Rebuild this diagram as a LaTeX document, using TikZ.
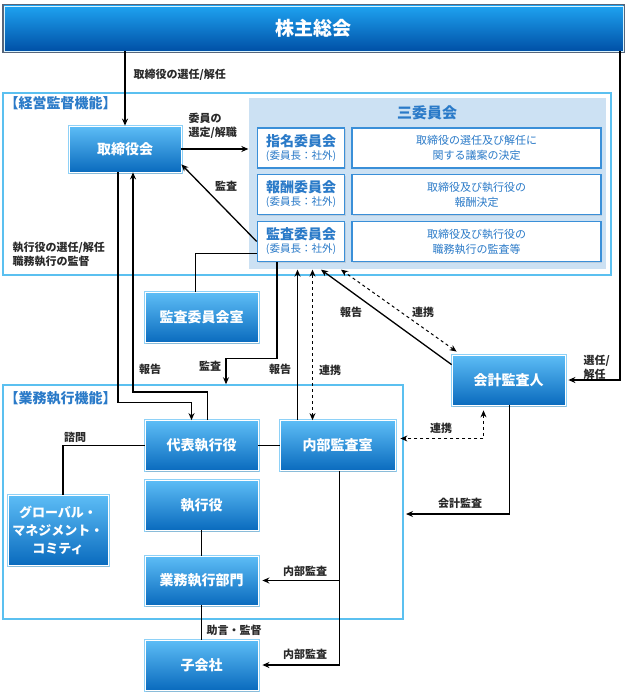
\documentclass[tikz,border=0pt]{standalone}
\usepackage{fontspec}
\setmainfont{Noto Sans CJK JP}
\usepackage{xcolor}
\usetikzlibrary{arrows.meta,shadows}
\definecolor{boxtop}{HTML}{5DBDF6}
\definecolor{boxbot}{HTML}{0A6BBE}
\definecolor{boxedge}{HTML}{8ED1F7}
\definecolor{topa}{HTML}{1EA2F0}
\definecolor{topb}{HTML}{0050A6}
\definecolor{topedge}{HTML}{56657A}
\definecolor{comedge}{HTML}{3A8FD8}
\definecolor{comtext}{HTML}{2A7AC8}
\definecolor{combg}{HTML}{CCE1F3}
\definecolor{grpc}{HTML}{5BC0F0}
\definecolor{lblc}{HTML}{2A2A2A}

\begin{document}
\begin{tikzpicture}[x=1pt,y=-1pt,line width=1.3pt,>={Stealth[length=7pt,width=6pt]},
 bluebox/.style={preaction={draw=boxedge,line width=3pt},draw=white,line width=.8pt,top color=boxtop,bottom color=boxbot,
  text=white,font=\fontsize{14}{18}\selectfont\bfseries,minimum width=113pt,minimum height=50pt,align=center,
  drop shadow={opacity=.25,shadow xshift=1pt,shadow yshift=-1.5pt}},
 topbox/.style={preaction={draw=topedge,line width=4pt},draw=white!85!cyan,line width=.8pt,top color=topa,bottom color=topb,
  text=white,font=\fontsize{19}{22}\selectfont\bfseries,minimum width=619pt,minimum height=45pt},
 combox/.style={draw=comedge,line width=1.6pt,fill=white,text=comtext,minimum height=40pt,align=center,
  font=\fontsize{14}{13}\selectfont\bfseries,drop shadow={opacity=.2,shadow xshift=1pt,shadow yshift=-1pt}},
 descbox/.style={combox,minimum width=249pt,font=\fontsize{11}{15}\selectfont},
 grpframe/.style={draw=grpc,line width=1.5pt,inner sep=0pt},
 lbl/.style={text=lblc,font=\fontsize{11}{14}\selectfont\bfseries,inner sep=0pt,align=left},
 ttl/.style={text=comtext,font=\fontsize{14}{16}\selectfont\bfseries,inner sep=0pt}]
\useasboundingbox (0,0) rectangle (628,693);
% frames
\node[grpframe,minimum width=608pt,minimum height=182pt] (kf) at (307,184) {};
\node[fill=combg,minimum width=357pt,minimum height=171pt,inner sep=0pt] (cbg) at (427.5,183.5) {};
\node[grpframe,minimum width=400pt,minimum height=234pt] (exf) at (203,502) {};
\node[ttl,anchor=west] (kft) at (4,103) {【経営監督機能】};
\node[ttl,anchor=west] (exft) at (4,398) {【業務執行機能】};
\node[ttl,font=\fontsize{15}{17}\selectfont\bfseries] (cbgt) at (427,113) {三委員会};
% boxes
\node[topbox] (sh) at (313.5,28.5) {株主総会};
\node[bluebox,minimum width=112pt,minimum height=46pt] (bod) at (125,149) {取締役会};
\node[combox,minimum width=87pt] (nom) at (301,148) {指名委員会\\{\fontsize{10.5}{12}\selectfont\mdseries (委員長：社外)}};
\node[combox,minimum width=87pt] (rem) at (301,194.5) {報酬委員会\\{\fontsize{10.5}{12}\selectfont\mdseries (委員長：社外)}};
\node[combox,minimum width=87pt] (aud) at (301,241.5) {監査委員会\\{\fontsize{10.5}{12}\selectfont\mdseries (委員長：社外)}};
\node[descbox] (nomd) at (476.5,148) {取締役の選任及び解任に\\関する議案の決定};
\node[descbox] (remd) at (476.5,194.5) {取締役及び執行役の\\報酬決定};
\node[descbox] (audd) at (476.5,241.5) {取締役及び執行役の\\職務執行の監査等};
\node[bluebox] (acr) at (201.5,317.5) {監査委員会室};
\node[bluebox] (ext) at (508.5,380) {会計監査人};
\node[bluebox] (ceo) at (201.5,445.5) {代表執行役};
\node[bluebox,minimum width=115pt] (ia) at (337.5,445.5) {内部監査室};
\node[bluebox] (exe) at (201.5,505) {執行役};
\node[bluebox,minimum height=49pt] (dept) at (201.5,580.5) {業務執行部門};
\node[bluebox] (sub) at (201.5,665) {子会社};
\node[bluebox,minimum width=100pt,minimum height=70pt,font=\fontsize{13}{18}\selectfont\bfseries] (gmc) at (58,530) {グローバル・\\マネジメント・\\コミティ};
% connectors
\coordinate (rt) at (620,0);
\coordinate (ca) at (406,514);
\draw[->] (bod.north |- sh.south) -- (bod.north);
\draw[->] (sh.south -| rt) |- ([xshift=3pt]ext.east);
\draw[->] (bod.east) -- (bod.east -| cbg.west);
\draw[->] (aud.west) -- ([yshift=8pt]bod.south east);
\draw[->] ([xshift=-7pt]bod.south) -- ++(0,230) -| ([xshift=-10pt]ceo.north);
\draw[->] ([xshift=6pt]ceo.north) -- ++(0,-28) -| ([xshift=8pt]bod.south);
\draw ([xshift=-6pt]acr.north) |- ([yshift=-12pt]aud.west);
\draw[->] ([xshift=-24pt]aud.south) -- ++(0,96) -| ([xshift=23pt]exf.north);
\draw[->] ([xshift=-40pt]ia.north) -- ([xshift=-40pt]ia.north |- cbg.south);
\draw[<->,dashed,line width=1pt] ([xshift=-25pt]ia.north) -- ([xshift=-25pt]ia.north |- cbg.south);
\draw[->] ([yshift=-10pt]ext.north west) -- ([xshift=20pt]aud.south |- cbg.south);
\draw[<->,dashed,line width=1pt] ([xshift=5pt,yshift=3pt]ext.north west) -- ([xshift=40pt]aud.south |- cbg.south);
\draw (ceo.east) -- (ia.west);
\draw[<->,dashed,line width=1pt] ([xshift=-25pt,yshift=-5pt]ext.south) |- ([xshift=5pt,yshift=7pt]ia.east);
\draw[->] ([xshift=1pt]ext.south) |- (ca);
\draw[->] ([xshift=2pt]ia.south) |- ([xshift=4pt]sub.east);
\draw[->] ([xshift=2pt]ia.south |- dept.east) -- ([xshift=4pt]dept.east);
\draw (exe.south) -- (dept.north);
\draw (dept.south) -- (sub.north);
\draw ([xshift=5pt]gmc.north) |- (ceo.west);
% labels
\node[lbl,anchor=west] (l1) at (133,75) {取締役の選任/解任};
\node[lbl,anchor=west] (l2) at (188,126) {委員の\\選定/解職};
\node[lbl] (l3) at (226,186) {監査};
\node[lbl,anchor=west] (l4) at (12,254) {執行役の選任/解任\\職務執行の監督};
\node[lbl] (l5) at (150,369) {報告};
\node[lbl] (l6) at (210,366) {監査};
\node[lbl] (l7) at (280,369) {報告};
\node[lbl] (l8) at (330,370) {連携};
\node[lbl] (l9) at (351,312) {報告};
\node[lbl] (l10) at (423,312) {連携};
\node[lbl,anchor=west] (l11) at (583,367) {選任/\\解任};
\node[lbl] (l12) at (441,428) {連携};
\node[lbl] (l13) at (460,503) {会計監査};
\node[lbl] (l14) at (305,571) {内部監査};
\node[lbl] (l15) at (305,654) {内部監査};
\node[lbl] (l16) at (75,437) {諮問};
\node[lbl] (l17) at (234,630) {助言・監督};
\end{tikzpicture}
\end{document}
